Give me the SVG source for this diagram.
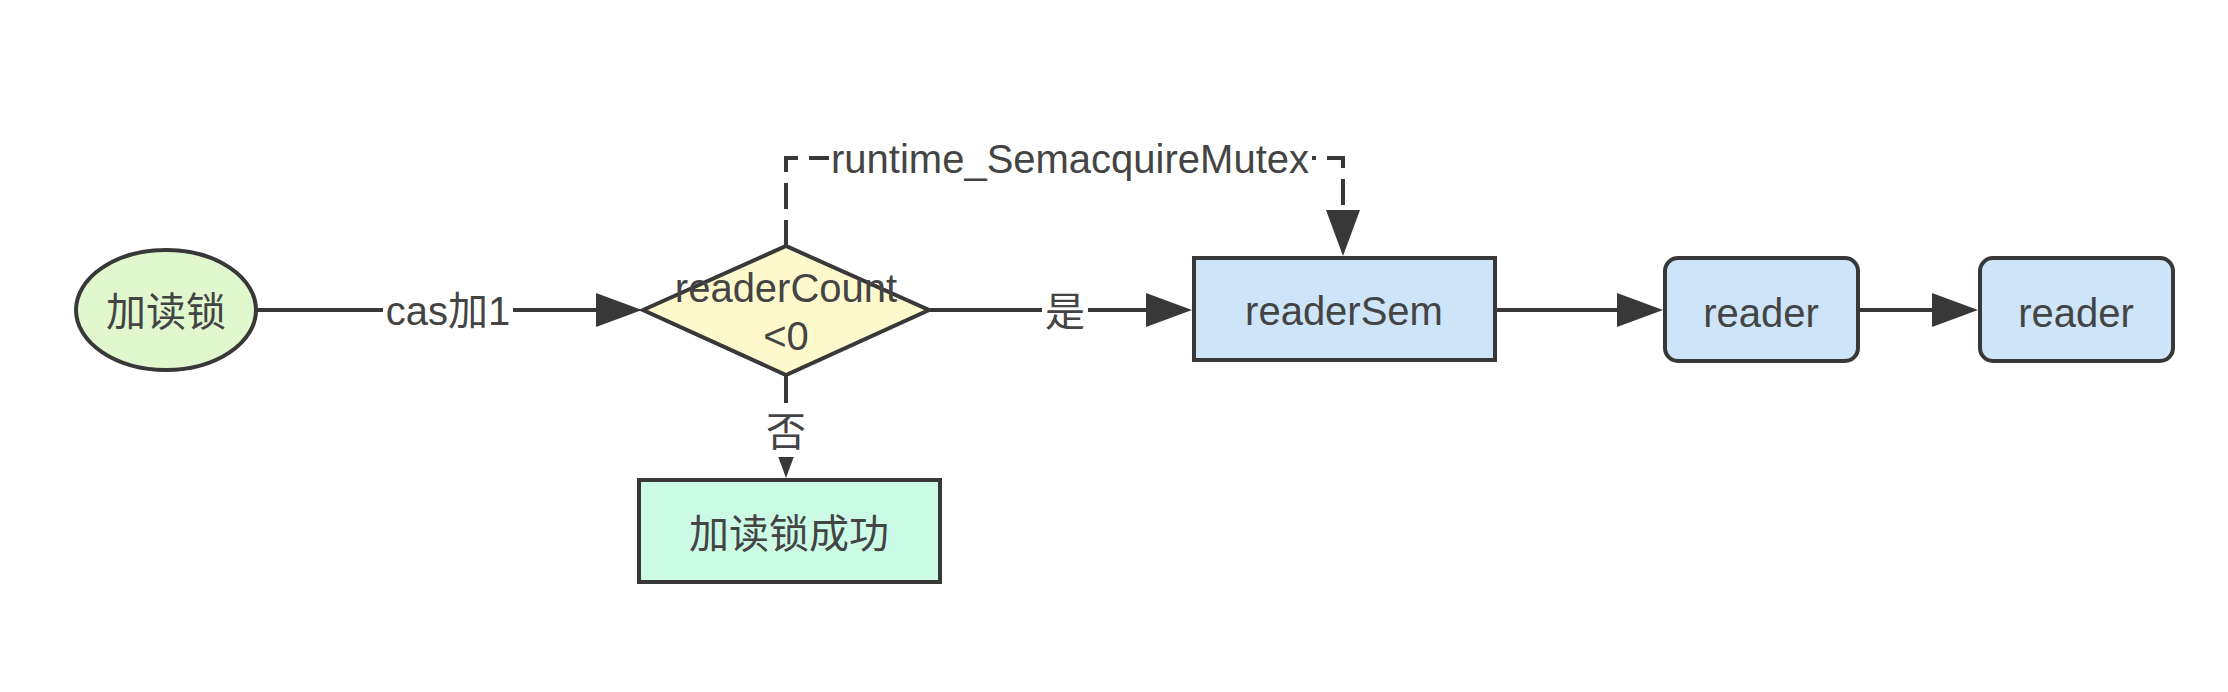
<svg xmlns="http://www.w3.org/2000/svg" width="2228" height="692" viewBox="0 0 2228 692">
<style>
text{font-family:"Liberation Sans","Noto Sans CJK SC",sans-serif;font-size:40px;fill:#444;text-anchor:middle}
.node{stroke:#383838;stroke-width:4}
.edge{fill:none;stroke:#383838;stroke-width:4}
.dash{stroke-dasharray:26 11}
.lblbg{fill:#fff}
.c{dominant-baseline:central}
</style>
<defs>
<marker id="arr" markerUnits="userSpaceOnUse" markerWidth="46" markerHeight="34" refX="40" refY="17" orient="auto">
<path d="M0,0 L46,17 L0,34 z" fill="#383838"/>
</marker>
</defs>
<rect width="2228" height="692" fill="#fff"/>
<g id="connectors">
<path class="edge" d="M256,310 H636" marker-end="url(#arr)"/>
<rect class="lblbg" x="383" y="290" width="130" height="40"/>
<text x="448" y="325">cas加1</text>
<path class="edge" d="M930,310 H1186" marker-end="url(#arr)"/>
<rect class="lblbg" x="1042" y="290" width="46" height="42"/>
<text class="c" x="1065" y="312">是</text>
<path class="edge" d="M1497,310 H1657" marker-end="url(#arr)"/>
<path class="edge" d="M1860,310 H1972" marker-end="url(#arr)"/>
<path class="edge" d="M786,376 V472" marker-end="url(#arr)"/>
<rect class="lblbg" x="766" y="403" width="40" height="54"/>
<text class="c" x="786" y="432">否</text>
<path class="edge dash" d="M786,246 V158 H1343 V250" marker-end="url(#arr)"/>
<rect class="lblbg" x="829" y="140" width="483" height="42"/>
<text x="1070" y="173">runtime_SemacquireMutex</text>
</g>
<g id="start">
<ellipse class="node" cx="166" cy="310" rx="90" ry="60" fill="#e1f8cf"/>
<text class="c" x="166" y="312">加读锁</text>
</g>
<g id="decision">
<polygon class="node" points="643,310 786,246 929,310 786,375" fill="#fef9cd"/>
<text x="786" y="302">readerCount</text>
<text x="786" y="350">&lt;0</text>
</g>
<g id="readerSem">
<rect class="node" x="1194" y="258" width="301" height="102" fill="#cde4f9"/>
<text x="1344" y="325">readerSem</text>
</g>
<g id="reader1">
<rect class="node" x="1665" y="258" width="193" height="103" rx="13" fill="#cde4f9"/>
<text x="1761" y="327">reader</text>
</g>
<g id="reader2">
<rect class="node" x="1980" y="258" width="193" height="103" rx="13" fill="#cde4f9"/>
<text x="2076" y="327">reader</text>
</g>
<g id="success">
<rect class="node" x="639" y="480" width="301" height="102" fill="#cbfbe4"/>
<text class="c" x="789" y="534">加读锁成功</text>
</g>
</svg>
